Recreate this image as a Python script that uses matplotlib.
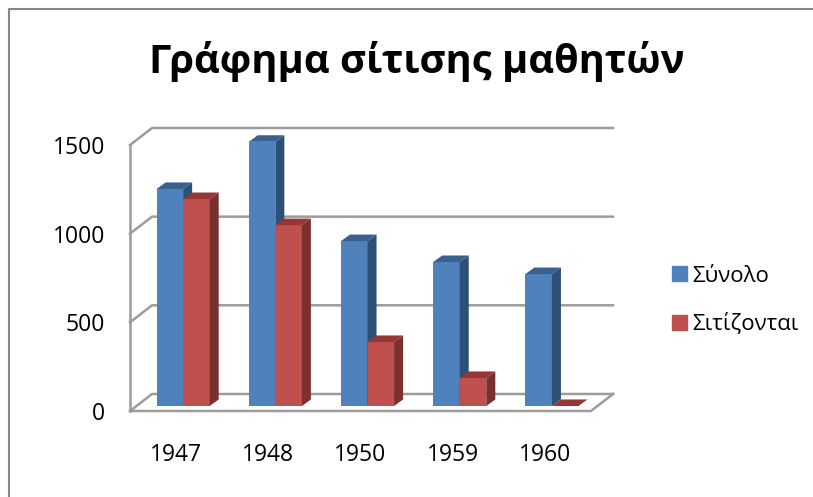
import matplotlib
matplotlib.use('Agg')
import matplotlib.pyplot as plt
from matplotlib.lines import Line2D
from matplotlib.patches import Polygon, Rectangle

plt.rcParams['font.family'] = ['Open Sans', 'DejaVu Sans']

# Data
years = ['1947', '1948', '1950', '1959', '1960']
total = [1224, 1490, 930, 812, 744]
fed = [1167, 1020, 361, 158, 0]
yticks = [0, 500, 1000, 1500]

blue, blue_side, blue_top = '#4f81bd', '#2f5076', '#3a6090'
red, red_side, red_top = '#c0504d', '#7a302e', '#953735'
grey = '#9c9c9c'

# Fake 3D depth, in data units
wall_dx, wall_dy = 0.239, 96
bar_x0, bar_y0 = 0.076, 28
bar_dx, bar_dy = 0.098, 37
width = 0.288

fig = plt.figure(figsize=(8.13, 4.97), dpi=100)
ax = fig.add_axes([130 / 813, 1 - 411 / 497, 461 / 813, 266 / 497])
ax.set_xlim(-0.5, 4.5)
ax.set_ylim(0, 1500)
for s in ax.spines.values():
    s.set_visible(False)

# Walls and floor
for y in yticks:
    ax.plot([-0.5, -0.5 + wall_dx, 4.5 + wall_dx], [y, y + wall_dy, y + wall_dy],
            color=grey, lw=1.8, clip_on=False, zorder=1)
ax.plot([-0.5, -0.5], [0, 1500], color=grey, lw=1.8, clip_on=False, zorder=1)
ax.plot([-0.5, 4.5, 4.5 + wall_dx], [0, 0, wall_dy], color=grey, lw=1.8,
        clip_on=False, zorder=1)


def draw_bars(xs, values, front, side, top, label, z):
    ax.bar(xs, values, width, bottom=bar_y0, color=front, label=label, zorder=z,
           clip_on=False)
    for x, v in zip(xs, values):
        x0, x1 = x - width / 2, x + width / 2
        y0, y1 = bar_y0, bar_y0 + v
        ax.add_patch(Polygon([(x1, y0), (x1 + bar_dx, y0 + bar_dy),
                              (x1 + bar_dx, y1 + bar_dy), (x1, y1)],
                             color=side, lw=0, zorder=z, clip_on=False))
        ax.add_patch(Polygon([(x0, y1), (x0 + bar_dx, y1 + bar_dy),
                              (x1 + bar_dx, y1 + bar_dy), (x1, y1)],
                             color=top, lw=0, zorder=z, clip_on=False))


pos = list(range(len(years)))
draw_bars([p + bar_x0 - width / 2 for p in pos], total, blue, blue_side, blue_top, 'Σύνολο', 3)
draw_bars([p + bar_x0 + width / 2 for p in pos], fed, red, red_side, red_top, 'Σιτίζονται', 4)

ax.set_xticks(pos, years)
ax.set_yticks(yticks)
ax.tick_params(length=0, labelsize=16.5, colors='black')
ax.tick_params(axis='x', pad=23)
ax.tick_params(axis='y', pad=18)

handles = [Rectangle((0, 0), 1, 1, color=blue), Rectangle((0, 0), 1, 1, color=red)]
fig.legend(handles, ['Σύνολο', 'Σιτίζονται'], loc='center left',
           bbox_to_anchor=(652 / 813, 1 - 300.5 / 497), frameon=False, fontsize=16,
           handlelength=0.68, handleheight=0.68, handletextpad=0.22, labelspacing=1.215)

fig.text(417 / 813, 1 - 61.5 / 497, 'Γράφημα σίτισης μαθητών', fontsize=28.7,
         fontweight='bold', ha='center', va='center')

# Chart-area border
fig.add_artist(Line2D([8.5 / 813, 8.5 / 813, 1], [0, 1 - 9 / 497, 1 - 9 / 497],
                      color='#868686', lw=1.5))

fig.savefig('out.png', dpi=100)
